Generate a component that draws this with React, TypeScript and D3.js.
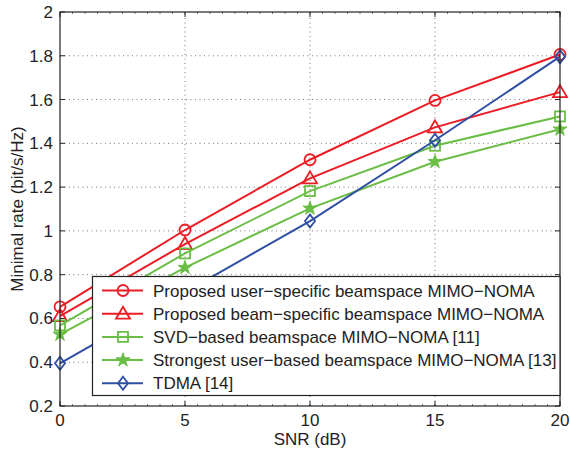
import React, { useRef, useEffect } from "react";
import * as d3 from "d3";

const snr = [0, 5, 10, 15, 20];
const userSpecific = [0.653, 1.004, 1.325, 1.596, 1.806];
const beamSpecific = [0.611, 0.94, 1.24, 1.473, 1.634];
const svdBased = [0.568, 0.897, 1.182, 1.389, 1.523];
const strongestUser = [0.527, 0.832, 1.103, 1.316, 1.464];
const tdma = [0.395, 0.72, 1.045, 1.414, 1.796];

const seriesNames = [
  "Proposed user\u2212specific beamspace MIMO\u2212NOMA",
  "Proposed beam\u2212specific beamspace MIMO\u2212NOMA",
  "SVD\u2212based beamspace MIMO\u2212NOMA [11]",
  "Strongest user\u2212based beamspace MIMO\u2212NOMA [13]",
  "TDMA [14]",
];
const seriesValues = [userSpecific, beamSpecific, svdBased, strongestUser, tdma];
const seriesColors = ["#ed1c24", "#ed1c24", "#6abd45", "#6abd45", "#2e4fa3"];
const seriesMarkers = ["circle", "triangle", "square", "star", "diamond"];

const xTicks = [0, 5, 10, 15, 20];
const yTicks = [0.2, 0.4, 0.6, 0.8, 1, 1.2, 1.4, 1.6, 1.8, 2];

const W = 570;
const H = 451;
const m = { left: 60, right: 10, top: 12, bottom: 45 };
const FONT = "'Liberation Sans', Arial, sans-serif";

function drawMarker(g: any, type: string, x: number, y: number, color: string) {
  if (type === "circle") {
    g.append("circle").attr("cx", x).attr("cy", y).attr("r", 5.5)
      .attr("fill", "none").attr("stroke", color).attr("stroke-width", 1.8);
  } else if (type === "square") {
    g.append("rect").attr("x", x - 5).attr("y", y - 5).attr("width", 10).attr("height", 10)
      .attr("fill", "none").attr("stroke", color).attr("stroke-width", 1.8);
  } else if (type === "triangle") {
    g.append("path")
      .attr("d", `M${x},${y - 7}L${x + 7},${y + 5}L${x - 7},${y + 5}Z`)
      .attr("fill", "none").attr("stroke", color).attr("stroke-width", 1.8);
  } else if (type === "star") {
    g.append("path")
      .attr("d", d3.symbol().type(d3.symbolStar).size(60)())
      .attr("transform", `translate(${x},${y})`)
      .attr("fill", color).attr("stroke", color).attr("stroke-width", 1);
  } else if (type === "diamond") {
    g.append("path")
      .attr("d", `M${x},${y - 6.5}L${x + 5},${y}L${x},${y + 6.5}L${x - 5},${y}Z`)
      .attr("fill", "none").attr("stroke", color).attr("stroke-width", 1.8);
  }
}

export default function App() {
  const ref = useRef<SVGSVGElement>(null);

  useEffect(() => {
    const svg = d3.select(ref.current);
    svg.selectAll("*").remove();

    const x = d3.scaleLinear().domain([0, 20]).range([m.left, W - m.right]);
    const y = d3.scaleLinear().domain([0.2, 2]).range([H - m.bottom, m.top]);
    const [x0, x1] = x.range();
    const [y0, y1] = y.range();

    svg.append("rect").attr("width", W).attr("height", H).attr("fill", "#fff");

    // grid
    const grid = svg.append("g").attr("stroke", "#555").attr("stroke-width", 0.8)
      .attr("stroke-dasharray", "1,3.5");
    xTicks.slice(1, -1).forEach((t) => {
      grid.append("line").attr("x1", x(t)).attr("x2", x(t)).attr("y1", y0).attr("y2", y1);
    });
    yTicks.slice(1, -1).forEach((t) => {
      grid.append("line").attr("x1", x0).attr("x2", x1).attr("y1", y(t)).attr("y2", y(t));
    });

    // ticks
    const ticks = svg.append("g").attr("stroke", "#222").attr("stroke-width", 1);
    xTicks.forEach((t) => {
      ticks.append("line").attr("x1", x(t)).attr("x2", x(t)).attr("y1", y0).attr("y2", y0 - 5);
      ticks.append("line").attr("x1", x(t)).attr("x2", x(t)).attr("y1", y1).attr("y2", y1 + 5);
    });
    d3.range(0, 20.01, 0.5).forEach((t) => {
      ticks.append("line").attr("x1", x(t)).attr("x2", x(t)).attr("y1", y0).attr("y2", y0 - 2)
        .attr("stroke-width", 0.6);
      ticks.append("line").attr("x1", x(t)).attr("x2", x(t)).attr("y1", y1).attr("y2", y1 + 2)
        .attr("stroke-width", 0.6);
    });
    yTicks.forEach((t) => {
      ticks.append("line").attr("x1", x0).attr("x2", x0 + 5).attr("y1", y(t)).attr("y2", y(t));
      ticks.append("line").attr("x1", x1).attr("x2", x1 - 5).attr("y1", y(t)).attr("y2", y(t));
    });

    // lines
    const line = d3.line<number>().x((_, i) => x(snr[i])).y((d) => y(d));
    seriesValues.forEach((vals, k) => {
      const g = svg.append("g");
      g.append("path").attr("d", line(vals)).attr("fill", "none")
        .attr("stroke", seriesColors[k]).attr("stroke-width", 2);
      vals.forEach((v, i) => drawMarker(g, seriesMarkers[k], x(snr[i]), y(v), seriesColors[k]));
    });

    // box
    svg.append("rect").attr("x", x0).attr("y", y1).attr("width", x1 - x0).attr("height", y0 - y1)
      .attr("fill", "none").attr("stroke", "#222").attr("stroke-width", 1.2);

    // tick labels
    const lbl = svg.append("g").attr("font-family", FONT).attr("font-size", 17).attr("fill", "#222");
    xTicks.forEach((t) => {
      lbl.append("text").attr("x", x(t)).attr("y", 426).attr("text-anchor", "middle").text(d3.format("")(t));
    });
    yTicks.forEach((t) => {
      lbl.append("text").attr("x", x0 - 7).attr("y", y(t) + 6).attr("text-anchor", "end").text(String(t));
    });
    lbl.append("text").attr("x", (x0 + x1) / 2).attr("y", 445).attr("text-anchor", "middle").text("SNR (dB)");
    lbl.append("text").attr("transform", `translate(23,${(y0 + y1) / 2}) rotate(-90)`)
      .attr("text-anchor", "middle").text("Minimal rate (bit/s/Hz)");

    // legend
    const leg = svg.append("g");
    leg.append("rect").attr("x", 92.5).attr("y", 276.5).attr("width", x1 - 92.5).attr("height", 119)
      .attr("fill", "#fff").attr("stroke", "#222").attr("stroke-width", 1.2);
    seriesNames.forEach((name, k) => {
      const ly = 290.5 + k * 23.2;
      leg.append("line").attr("x1", 102).attr("x2", 143).attr("y1", ly).attr("y2", ly)
        .attr("stroke", seriesColors[k]).attr("stroke-width", 2);
      drawMarker(leg, seriesMarkers[k], 123, ly, seriesColors[k]);
      leg.append("text").attr("x", 153).attr("y", ly + 6).attr("font-family", FONT)
        .attr("font-size", 17).attr("fill", "#222").text(name);
    });
  }, []);

  return (
    <svg ref={ref} width={W} height={H}
      style={{ position: "absolute", left: 0, top: 0, display: "block" }} />
  );
}
